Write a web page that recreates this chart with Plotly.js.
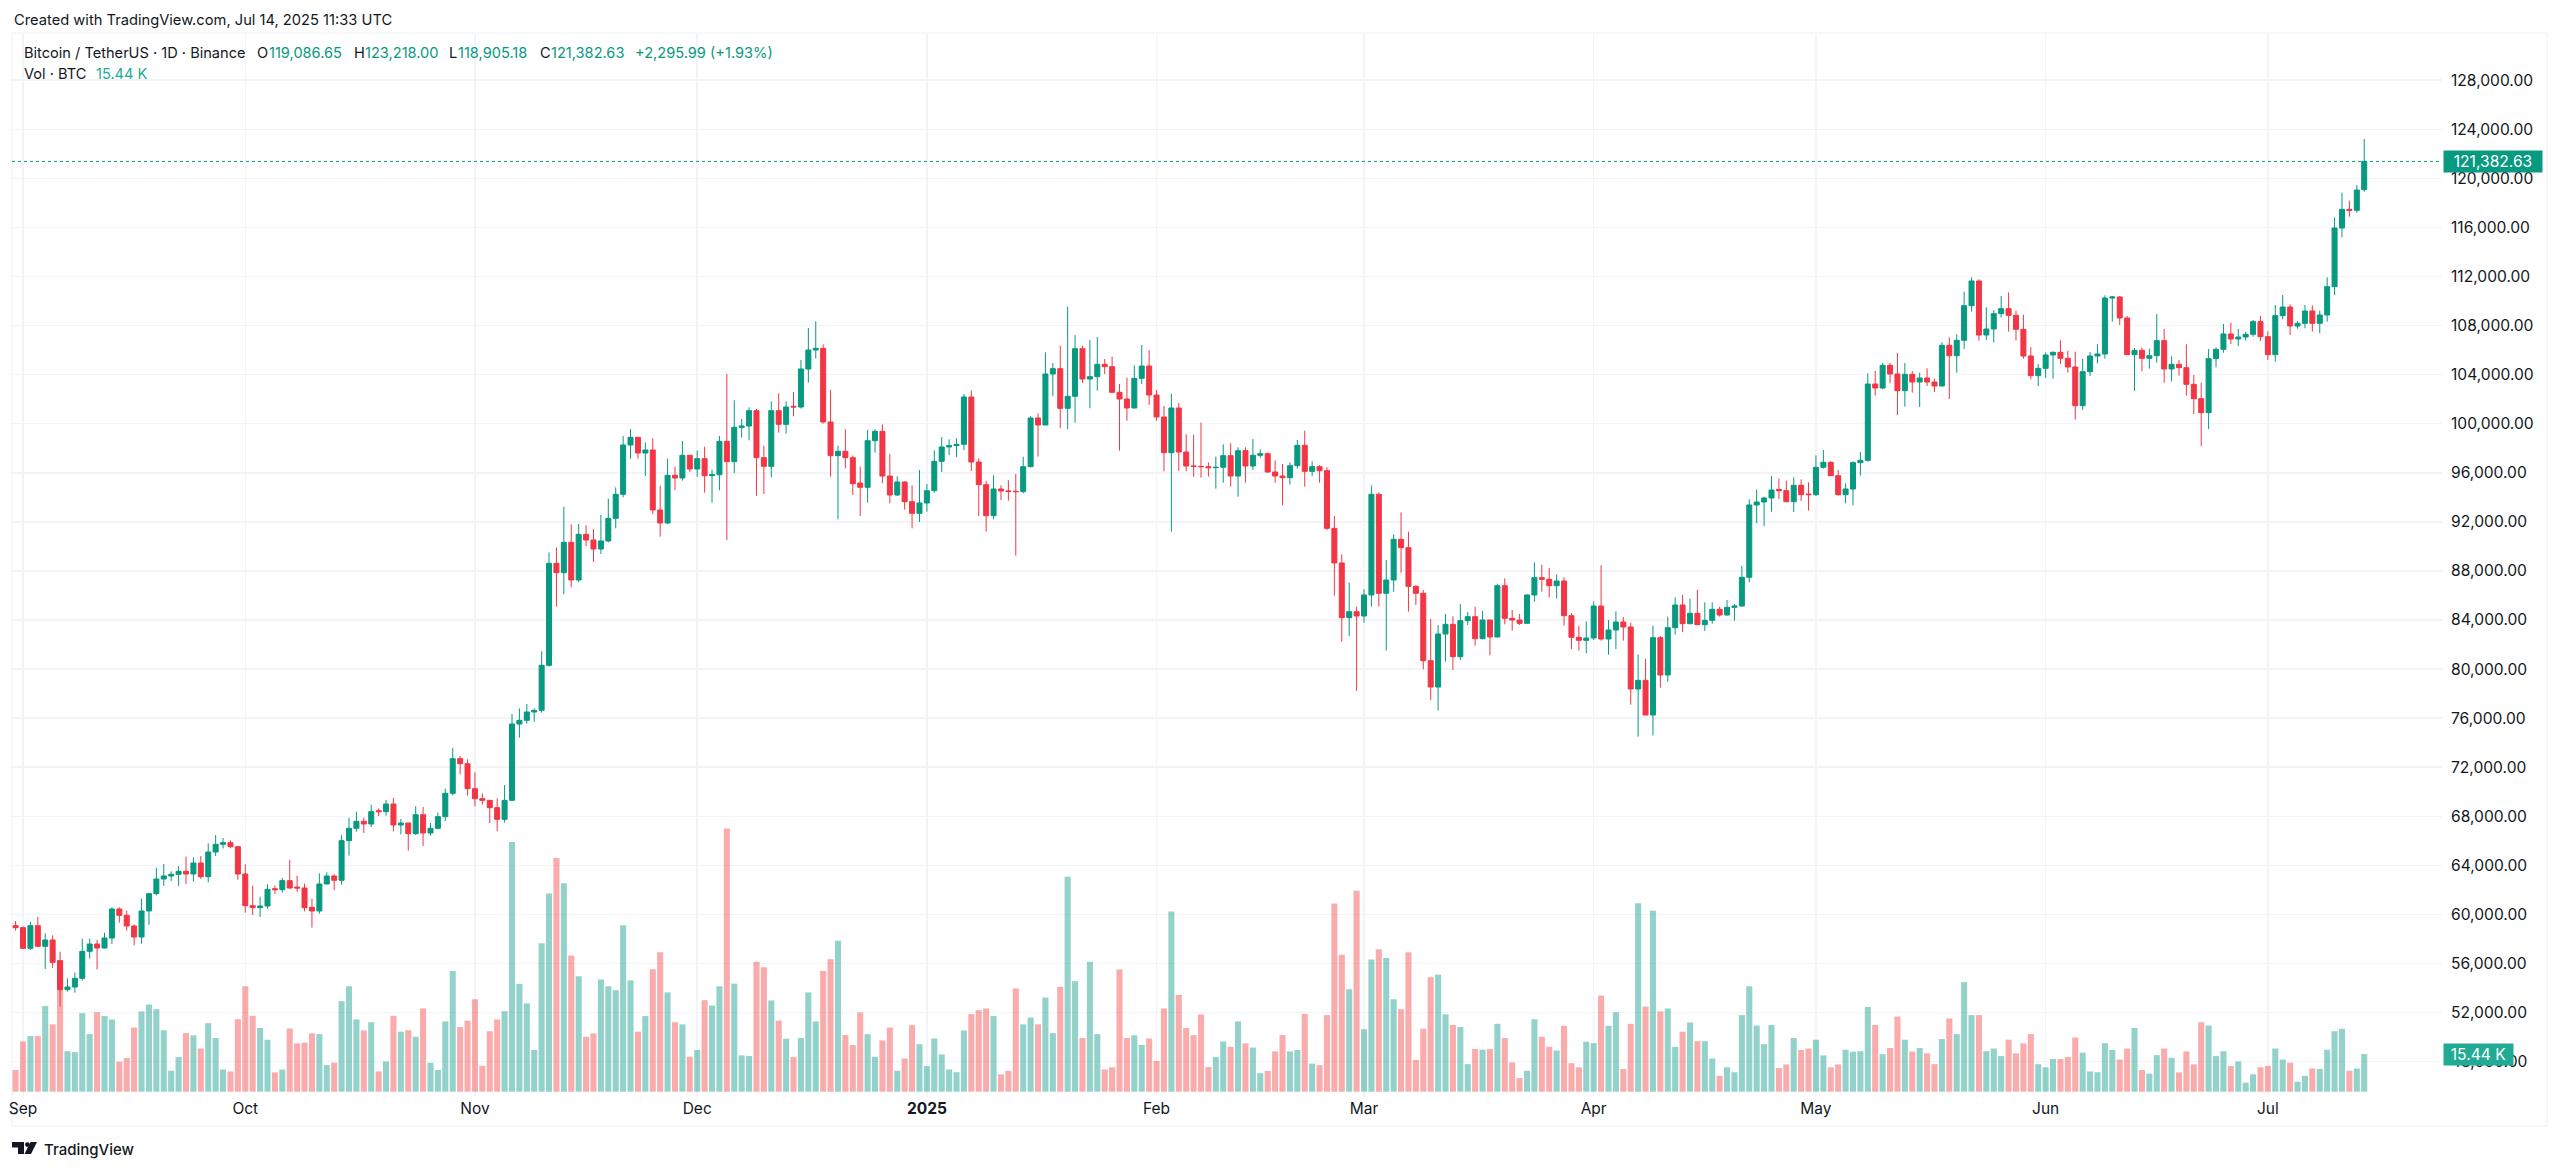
<!DOCTYPE html>
<html><head><meta charset="utf-8">
<script src="https://cdn.plot.ly/plotly-3.0.1.min.js"></script>
<style>html,body{margin:0;padding:0;background:#fff}</style></head>
<body><div id="chart" style="width:2560px;height:1170px"></div>
<script>
const firstDay = '2024-08-31';
const open = [59086,58923,57239,59086,57401,57918,56234,53869,54087,54793,56994,57592,57266,58081,60445,59929,59059,58162,60282,61695,62890,63135,63270,63515,63298,64194,63080,65091,65716,65851,65526,
63298,60716,60553,60690,62100,62021,62755,62238,62156,60581,60282,62483,63135,62782,66015,67020,67590,67373,68460,68378,69003,67292,67455,66585,68134,66640,67020,67971,69873,72698,72291,
70253,69438,69302,68705,67753,69302,75524,75823,76502,76638,80306,88622,87861,90333,87263,90985,90524,89790,90442,92290,94246,98267,98892,97615,97860,92969,91910,95795,95578,97425,
96311,97153,95767,95849,98566,96908,99707,99815,101066,97235,96528,101066,99951,101418,101364,104462,106010,106146,100142,97398,97750,97235,95169,94817,98620,99381,95740,94192,95251,93648,92697,
93540,94545,96936,98104,98212,98321,102180,96881,95034,92507,94681,94518,94490,94463,96501,100468,99897,104054,104489,101256,102234,106119,103647,103837,104842,104652,102560,102016,101283,103701,104706,
102342,100549,97642,101283,97696,96555,96528,96501,96419,96447,97398,95740,97805,96555,97425,97560,96066,95740,95604,96582,98240,96120,96501,96175,91474,88649,84193,84682,
84329,86041,94246,86177,87263,90578,89899,86747,86177,80688,78541,82861,83649,81013,83948,84274,82480,84002,82616,86801,84138,84002,83730,86040,87453,87317,86801,87181,84355,82589,82344,
82534,85143,82453,83187,83839,83432,78378,79084,76258,82562,79518,83377,85225,83703,84545,83622,83975,84871,84409,85034,85143,87480,93376,93620,93946,94650,94544,93647,94978,94272,
94218,96446,96853,95767,94218,94680,96826,97017,103240,102913,104761,104055,102696,104027,103402,103728,103402,103076,106391,105549,106799,109624,111635,107234,107723,108972,109380,108837,107695,105522,103919,
104516,105603,105820,105332,104625,101473,104245,105522,105685,110249,110331,108619,105630,105983,105332,105549,106771,104462,104842,104570,103212,102044,100903,105304,106065,107315,106907,107070,107288,108320,
107098,105630,108809,109516,107967,108184,109190,108184,108863,111173,115955,117476,117395,119086.65];
const high = [59466,59032,59385,59793,58461,58298,56967,54793,55282,58026,58026,57918,58516,60581,60581,60309,59195,61287,61722,63814,64113,63515,63950,64711,64656,64765,65797,66477,66232,66042,65553,
64085,62347,61450,62456,62347,62971,64439,63162,62510,61287,63352,63433,63270,66450,67890,68378,67890,68949,68650,69329,69492,67781,67455,68813,68759,67455,68297,70253,73568,72916,72644,
71584,69873,69329,69465,70552,76339,76801,77154,76801,81447,89518,89926,93241,91800,91828,91719,91420,92561,93893,94817,98999,99571,98892,98484,98810,94952,97153,96501,98593,97425,
97805,98131,96256,98999,104054,101908,100386,101337,101201,98212,101826,102478,101826,102587,105195,107804,108347,106472,102750,98212,99544,97398,96501,99490,99544,99951,97533,95713,95306,94987,96229,
95088,97832,98919,98729,98810,102424,102723,97180,95333,95795,94980,95387,95903,97316,100631,100848,105820,104951,106364,109542,107233,106364,106825,107070,105277,105467,103239,103755,104760,106418,105983,
102750,101446,102451,101690,99137,99082,100087,96854,97316,98321,98403,98077,98077,98756,97913,97642,97017,96718,96854,98674,99435,96935,96637,96447,92480,89355,87045,85090,
86503,94952,94409,88893,90986,92779,91203,86829,86448,84084,83594,84491,84301,85306,84654,85089,84735,84002,86963,87398,84817,84491,86094,88702,88512,88240,87725,87480,84573,83512,83893,
85523,88458,84002,84709,84247,83784,81203,80823,83540,82698,84274,85850,86040,85741,86447,85442,85442,85089,85632,85306,88403,93838,94652,94055,95739,95522,95359,95631,95468,95223,
97424,97859,96935,96228,95142,96935,97697,104109,104299,104951,104951,105766,104951,104299,104163,104516,103674,106636,107043,107288,110766,111934,111771,109489,109271,110412,110711,109217,108891,106255,104870,
105820,105902,106799,105956,105875,105305,105847,106473,110467,110412,110412,108782,106174,106228,106119,108945,107723,105494,105196,106473,103973,103348,106092,106228,108130,108239,107723,107505,108456,108782,
107532,109679,110494,109733,108374,109679,109652,109217,111934,116824,118835,118183,119460,123218];
const low = [58679,57184,57103,57347,55554,55636,52484,53707,53625,54603,56397,55527,57239,57592,59331,58679,57483,57619,59141,61559,62320,62727,62320,62483,62673,62890,62618,64765,65390,65390,62836,
60146,59956,59793,60472,61667,61776,62075,61830,60255,58923,60065,62456,61993,62428,64792,66748,66640,67129,68025,68053,66776,66531,65200,66477,65580,66422,66939,67618,69710,71421,69682,
68813,68949,67455,66775,67482,69248,74410,75551,75714,76448,80199,85090,86122,86665,87073,90034,88730,89382,90333,91475,94002,97153,97153,95740,92616,90795,91828,94599,95360,96067,
95686,94382,93567,94572,90524,95985,98865,98647,94137,94273,95631,99272,99191,100603,101229,103348,105304,100006,95686,92208,96365,94192,92480,93567,97642,95142,93513,94110,92996,91475,91991,
92833,94382,96067,97452,97289,97860,96147,92480,91203,92208,93784,93730,89246,94327,96447,97316,99897,102261,99625,99544,100087,103321,101256,102696,104054,102560,97805,100250,101256,103239,101527,
100250,96120,91203,96148,96120,95686,95604,95686,94708,95197,94870,94055,95197,96229,97234,96012,95197,93349,95034,96338,94870,95740,95197,91338,85986,82237,82699,78215,
83785,85090,85090,81502,86313,87860,84682,85225,79982,77482,76612,80605,79926,80741,83594,81910,82426,81122,82589,83648,83132,83594,83730,85496,86311,85849,85741,83540,81638,81502,81285,
82371,82317,81176,81638,82317,77101,74493,76258,74602,78486,78975,82806,83017,83649,83594,83105,83703,84274,84355,83948,85089,87072,91881,91664,92832,93865,93593,92805,93702,92914,
94109,96337,95739,94136,93511,93348,95767,96909,102289,102805,103294,100713,101392,102533,101365,103076,102587,103022,102017,104163,106092,109135,106771,106826,106609,108646,107505,106772,105304,103620,103076,
103728,103674,104870,104163,100332,101120,103891,104924,105304,108320,108048,105630,102669,104272,104489,104978,103348,103457,103919,102288,100794,98186,99571,104598,105793,106500,106337,106772,107098,106744,
105196,105060,108510,107233,107750,107777,107505,107369,108320,110494,115194,116878,117205,118905.18];
const close = [58923,57239,59086,57401,57918,56098,53869,54087,54793,56994,57592,57266,58081,60445,59929,59059,58162,60282,61695,62890,63135,63270,63515,63298,64194,63080,65091,65716,65851,65526,63298,
60716,60553,60690,62048,62021,62755,62156,62156,60553,60282,62483,63135,62782,66015,67020,67590,67373,68378,68378,69003,67292,67455,66585,68134,66640,67020,67971,69873,72698,72291,70253,
69438,69302,68705,67753,69302,75524,75823,76502,76638,80306,88622,87861,90333,87263,90985,90524,89790,90442,92290,94246,98267,98892,97615,97860,92969,91910,95795,95578,97425,96311,
97153,95767,95849,98566,96908,99707,99815,101066,97235,96528,101066,99951,101364,101364,104462,106010,106146,100142,97398,97750,97235,95115,94817,98620,99381,95740,94192,95251,93648,92697,93540,
94545,96936,98104,98212,98321,102180,96881,95034,92507,94681,94518,94490,94463,96501,100468,99897,104054,104489,101256,102234,106119,103647,103837,104842,104652,102560,102016,101283,103701,104706,102342,
100549,97642,101283,97696,96555,96528,96501,96419,96447,97398,95740,97805,96555,97425,97560,96066,95740,95604,96582,98240,96120,96501,96175,91474,88649,84193,84682,84329,
86041,94246,86177,87263,90578,89899,86747,86177,80688,78541,82861,83649,81013,83948,84274,82480,84002,82616,86801,84138,84002,83730,86040,87453,87317,86801,87181,84355,82589,82344,82534,
85143,82453,83187,83839,83432,78378,79084,76258,82562,79518,83377,85225,83703,84545,83622,83975,84871,84409,85034,85143,87480,93376,93620,93946,94597,94544,93647,94978,94218,94218,
96446,96853,95767,94218,94680,96826,97017,103240,102913,104761,104055,102696,104027,103402,103728,103402,103076,106391,105549,106799,109624,111635,107234,107723,108972,109380,108837,107695,105522,103919,104516,
105603,105820,105332,104625,101473,104245,105522,105685,110249,110331,108619,105630,105983,105332,105549,106771,104462,104842,104570,103212,102044,100903,105304,106065,107315,106907,107070,107288,108320,107098,
105630,108809,109516,107967,108184,109190,108184,108863,111173,115955,117476,117395,119052,121382.63];
const volumeK = [8.9,20.6,22.8,22.8,35.1,27.6,53.8,16.6,16.2,32.2,23.6,32.6,31.0,29.6,12.3,13.8,26.3,32.9,35.7,33.8,25.2,8.6,14.2,24.0,23.1,17.7,28.1,22.0,9.1,8.3,29.7,
43.2,31.1,26.1,21.3,7.9,9.1,25.9,19.8,20.1,23.9,23.6,10.9,11.9,37.1,43.2,29.6,25.1,28.5,8.3,12.4,31.1,24.6,25.2,22.5,34.1,11.9,8.9,28.8,49.5,26.5,29.1,
37.9,10.6,24.8,29.6,33.0,102.3,44.2,36.2,17.1,60.8,81.2,95.8,85.4,55.8,47.3,22.5,23.9,46.0,43.2,41.6,68.2,45.6,24.6,31.0,50.2,57.2,40.7,28.5,27.6,14.3,
17.1,37.5,35.3,43.2,107.9,44.3,14.9,14.6,53.3,51.0,37.4,29.1,21.7,14.2,22.0,40.7,28.8,49.5,54.3,61.9,23.2,19.1,32.5,23.6,14.3,21.0,26.3,8.6,13.6,27.3,19.5,
10.5,21.8,15.3,9.1,8.0,25.1,31.8,33.4,34.1,31.0,7.1,8.6,42.3,27.6,30.4,27.6,38.6,24.0,43.0,88.1,45.3,22.0,53.3,23.6,9.1,10.0,50.1,22.0,23.1,19.2,21.8,
12.6,34.1,73.9,39.7,26.1,23.2,31.7,10.1,14.2,20.6,18.4,28.8,19.8,18.1,7.6,8.5,16.5,23.2,16.5,17.1,31.9,11.5,10.9,31.4,77.1,56.1,42.0,82.4,
25.6,54.2,58.4,54.8,37.9,33.8,57.2,13.0,25.8,46.9,48.0,31.7,27.3,26.5,11.3,17.5,17.2,17.5,27.8,22.0,12.0,5.6,8.6,29.7,22.5,18.4,16.9,27.0,11.7,10.0,20.5,
19.9,39.4,27.0,32.6,9.3,27.8,77.2,34.9,74.2,32.9,34.1,18.4,24.6,28.4,20.7,20.7,13.6,6.5,10.0,8.0,31.4,43.2,27.1,19.5,27.3,9.7,11.2,22.0,17.1,17.7,
21.3,14.9,10.0,11.2,17.2,16.4,16.6,34.7,27.3,15.4,17.9,30.8,21.3,16.5,17.9,15.7,11.3,21.6,30.0,23.6,44.9,31.4,31.4,16.6,17.7,14.6,21.3,15.7,19.8,23.6,11.3,
10.0,13.4,13.4,14.2,22.2,16.0,8.3,8.0,19.9,17.1,13.2,17.7,26.1,8.9,7.4,15.0,17.7,13.9,7.9,16.5,11.2,28.5,27.1,14.6,16.6,10.5,12.4,3.7,7.1,10.0,
10.6,17.7,13.2,11.9,4.1,6.5,9.5,9.3,17.2,24.8,25.8,8.6,9.5,15.44];
const monthTicks = ['2024-09-01','2024-10-01','2024-11-01','2024-12-01','2025-01-01','2025-02-01','2025-03-01','2025-04-01','2025-05-01','2025-06-01','2025-07-01'];
const monthLabels = ['Sep','Oct','Nov','Dec','<b>2025</b>','Feb','Mar','Apr','May','Jun','Jul'];
const priceTicks = [48000,52000,56000,60000,64000,68000,72000,76000,80000,84000,88000,92000,96000,100000,104000,108000,112000,116000,120000,124000,128000];
const legendRow1 = [
 ['Bitcoin / TetherUS · 1D · Binance',22,'#131722'],['O',255,'#131722'],['119,086.65',267,'#089981'],
 ['H',352,'#131722'],['123,218.00',363,'#089981'],['L',447,'#131722'],['118,905.18',456,'#089981'],
 ['C',538,'#131722'],['121,382.63',549,'#089981'],['+2,295.99 (+1.93%)',633,'#089981']];
const legendRow2 = [['Vol · BTC',22,'#131722'],['15.44 K',94,'#22AB94']];
const UP='#089981', DOWN='#F23645', FONT='Inter, "Noto Sans", sans-serif', TXT='#131722', GRID='#F3F4F7';
const W=2560,H=1170;
const px=x=>x/W, py=y=>1-y/H;
const start=Date.parse(firstDay+'T00:00:00Z');
const dates=close.map((_,i)=>new Date(start+i*864e5).toISOString().slice(0,10));
const barColors=close.map((c,i)=>c>=open[i]?'rgba(8,153,135,0.44)':'rgba(242,54,54,0.42)');
const traces=[
 {type:'bar',x:dates,y:volumeK,marker:{color:barColors,line:{width:0}},xaxis:'x',yaxis:'y',hoverinfo:'skip'},
 {type:'candlestick',x:dates,open:open,high:high,low:low,close:close,xaxis:'x',yaxis:'y2',whiskerwidth:0,
  increasing:{line:{color:UP,width:1},fillcolor:UP},decreasing:{line:{color:DOWN,width:1},fillcolor:DOWN},hoverinfo:'skip'}
];
const ann=[];
const addText=(t,x,y,size,color,extra)=>ann.push(Object.assign({text:t,xref:'paper',yref:'paper',x:px(x),y:py(y),xanchor:'left',yanchor:'middle',showarrow:false,font:{family:FONT,size:size,color:color}},extra||{}));
addText('Created with TradingView.com, Jul 14, 2025 11:33 UTC',12,20,14.7,TXT);
legendRow1.forEach(r=>addText(r[0],r[1],53,14.6,r[2]));
legendRow2.forEach(r=>addText(r[0],r[1],74,14.6,r[2]));
addText('TradingView',42,1149,15,TXT,{font:{family:FONT,size:15,color:TXT,weight:500}});
ann.push({text:'121,382.63',xref:'paper',yref:'y2',x:px(2443),y:close[close.length-1],xanchor:'left',yanchor:'middle',width:98,height:21,borderpad:0,bgcolor:UP,showarrow:false,align:'center',font:{family:FONT,size:15.6,color:'#fff'}});
ann.push({text:'15.44 K',xref:'paper',yref:'y',x:px(2443),y:volumeK[volumeK.length-1],xanchor:'left',yanchor:'middle',width:69,height:21,borderpad:0,bgcolor:'#22AB94',showarrow:false,align:'center',font:{family:FONT,size:15.6,color:'#fff'}});
const rectPath=(p)=>p.map(([c,x,y])=>c+(c==='Z'?'':px(x)+','+py(y))).join(' ');
const shapes=[
 {type:'rect',xref:'paper',yref:'paper',x0:px(12),x1:px(2547),y0:py(1126),y1:py(33),line:{color:'#EEF0F4',width:1},layer:'below'},
 {type:'line',xref:'paper',yref:'y2',x0:px(12),x1:px(2442),y0:close[close.length-1],y1:close[close.length-1],line:{color:UP,width:1,dash:'dot'}},
 {type:'path',xref:'paper',yref:'paper',path:rectPath([['M',12,1142],['L',24,1142],['L',24,1154],['L',18,1154],['L',18,1147.5],['L',12,1147.5],['Z']]),fillcolor:TXT,line:{width:0}},
 {type:'circle',xref:'paper',yref:'paper',x0:px(25),x1:px(29.8),y0:py(1147),y1:py(1142.2),fillcolor:TXT,line:{width:0}},
 {type:'path',xref:'paper',yref:'paper',path:rectPath([['M',37,1142],['L',31,1154],['L',24.5,1154],['L',30.5,1142],['Z']]),fillcolor:TXT,line:{width:0}}
];
const layout={
 width:W,height:H,margin:{l:0,r:0,t:0,b:0},paper_bgcolor:'#fff',plot_bgcolor:'#fff',showlegend:false,
 bargap:0.18,boxgap:0.1,boxgroupgap:0.25,dragmode:false,hovermode:false,
 font:{family:FONT,color:TXT},
 xaxis:{type:'date',domain:[px(12),px(2442)],range:['2024-08-30 12:21','2025-07-24 12:00'],rangeslider:{visible:false},
  showgrid:true,gridcolor:GRID,gridwidth:1.5,zeroline:false,showline:false,ticks:'',tickmode:'array',tickvals:monthTicks,ticktext:monthLabels,
  tickangle:0,tickfont:{family:FONT,size:15.5,color:TXT},anchor:'y',automargin:false},
 yaxis:{domain:[py(1097),py(33)],range:[-2.17,433.9],showticklabels:false,showgrid:false,zeroline:false,showline:false,ticks:'',automargin:false},
 yaxis2:{domain:[py(1097),py(33)],overlaying:'y',side:'right',anchor:'x',range:[45120,131850],tickmode:'array',tickvals:priceTicks,
  tickformat:',.2f',showgrid:true,gridcolor:GRID,gridwidth:1.5,zeroline:false,showline:false,ticks:'',ticklabelstandoff:8,
  tickfont:{family:FONT,size:15.6,color:TXT},automargin:false},
 annotations:ann,shapes:shapes
};
Plotly.newPlot('chart',traces,layout,{displayModeBar:false,staticPlot:true});
</script></body></html>
